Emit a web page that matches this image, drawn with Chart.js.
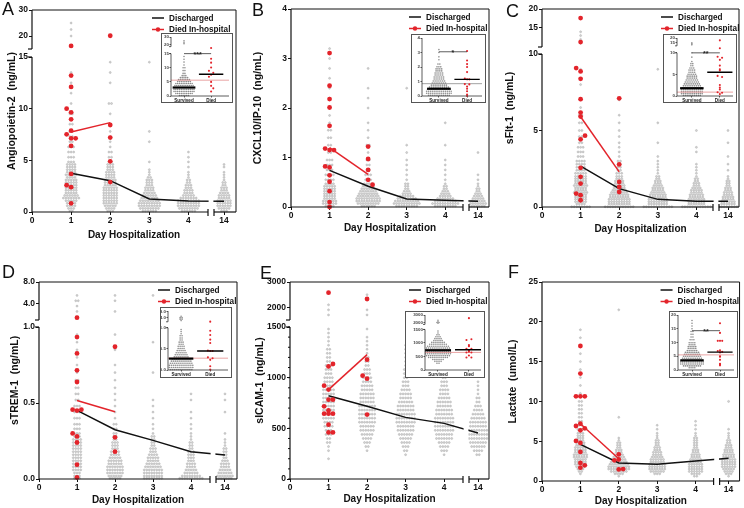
<!DOCTYPE html>
<html>
<head>
<meta charset="utf-8">
<title>Biomarkers by day of hospitalization</title>
<script src="https://cdn.jsdelivr.net/npm/chart.js@4.4.1/dist/chart.umd.min.js"></script>
<style>
html, body { margin: 0; padding: 0; background: #ffffff; }
#wrap { position: relative; width: 744px; height: 508px; overflow: hidden; background: #ffffff; }
#wrap canvas { position: absolute; }
.letter { position: absolute; z-index: 5; font-size: 18px; line-height: 18px; color: #111; font-family: "Liberation Sans", Arial, sans-serif; }
</style>
</head>
<body>
<div id="wrap">
  <div class="letter" style="left:2px;top:0px">A</div>
  <div class="letter" style="left:252px;top:1px">B</div>
  <div class="letter" style="left:506px;top:1.5px">C</div>
  <div class="letter" style="left:2px;top:262.6px">D</div>
  <div class="letter" style="left:260px;top:264px">E</div>
  <div class="letter" style="left:508px;top:262.6px">F</div>
</div>
<script>
// ---------------- shared categories ----------------
const days = [1, 2, 3, 4, 14];
const dayTicks = [0, 1, 2, 3, 4, 14];
const dayTickLabels = ['0', '1', '2', '3', '4', '14'];
const seriesLabels = ['Discharged', 'Died In-hospital'];
const insetCategories = ['Survived', 'Died'];
const xAxisTitle = 'Day Hospitalization';

// ---------------- A: Angiopoietin-2 ----------------
const angTitle = 'Angiopoietin-2  (ng/mL)';
const angTicks = [0, 5, 10, 15, 20, 30];
const angTickLabels = ['0', '5', '10', '15', '20', '30'];
const angRows = [0.1,0.35,0.6,0.85,1.1,1.35,1.6,1.85,2.1,2.35,2.6,2.85,3.1,3.35,3.6,3.85,4.1,4.35,4.6,4.85,5.3,5.8,6.3,6.8,7.3,7.8,8.5,9.5,10.5,11.5,12.5,13.5,14.5,17,20,22.5,25];
const angDay1 = [2,3,4,4,5,7,6,5,5,5, 5,5,5,4,5,4,4,4,4,3, 3,3,3,2,2,2,2,2,1,1, 1,1,0,0,1,1,1];
const angDay2 = [3,4,5,6,6,6,6,6,6,6, 5,5,5,4,4,4,3,3,3,2, 2,2,1,1,1,1,1,1,2,0, 1,1,1,0,1,0,0];
const angDay3 = [6,8,9,9,8,7,6,5,4,4, 3,3,3,2,1,1,1,0,0,1, 0,0,0,1,0,1,0,0,0,0, 0,0,1,0,0,0,0];
const angDay4 = [6,8,9,9,9,7,5,4,4,3, 3,2,2,1,1,1,0,1,0,1, 1,1,0,0,0,0,0,0,0,0, 0,0,0,0,0,0,0];
const angDay14 = [3,5,6,6,6,5,5,4,3,3, 2,2,1,1,1,1,0,1,1,0, 0,0,0,0,0,0,0,0,0,0, 0,0,0,0,0,0,0];
const angDiedDay1 = [16.2,13.2,12.1,10.0,9.65,8.97,7.87,7.52,7.13,7.13,6.39,3.68,2.6,2.4,0.84];
const angDiedDay1Slot = [0,0,0,-1,0,0,0,-1,0,1,0,0,-1,0,0];
const angDiedDay2 = [20.1,8.42,7.2,4.9,2.9];
const angDiedDay2Slot = [0,0,0,0,0];
const angDischargedMean = [3.74, 3.03, 1.26, 1.06, 1.04];
const angDiedMean = [7.75, 8.65];
const angInRows = [0.2,0.9,1.6,2.3,3.0,3.7,4.4,5.1,5.8,6.5,7.2,8,9,10,11,12,13,14,21,23,25];
const angInCounts = [6,10,12,12,12,11,10,8,7,5,3,2,2,2,1,1,1,1,1,1,1];
const angInDied = [16.6,13.2,11.8,10.1,8.9,8.2,7.5,6.8,5.0,3.6,2.7,1.6];
const angInDiedSlot = [0,0,0,0,-1,1,0,-1,0,0,1,0];
const angInMedian = [3.0, 7.7];
const angInCutoff = 5.6;
const angInSig = 15;
const angInStars = '***';

// ---------------- B: CXCL10/IP-10 ----------------
const cxTitle = 'CXCL10/IP-10  (ng/mL)';
const cxTicks = [0, 1, 2, 3, 4];
const cxTickLabels = ['0', '1', '2', '3', '4'];
const cxRows = [0.02,0.07,0.12,0.17,0.22,0.27,0.32,0.37,0.42,0.47,0.55,0.65,0.75,0.85,0.95,1.1,1.25,1.4,1.55,1.7,1.85,2.0,2.2,2.4,2.6,2.8,3.0,3.2];
const cxDay1 = [4,6,6,5,5,5,5,5,5,4, 4,4,3,3,3,2,2,2,2,1, 1,1,1,1,1,1,1,1];
const cxDay2 = [6,9,10,10,9,8,7,6,5,4, 3,3,2,2,2,1,2,1,1,1, 0,1,1,1,0,1,0,0];
const cxDay3 = [9,11,10,8,6,4,3,2,2,2, 1,1,1,1,1,1,1,0,0,0, 0,0,0,1,0,0,0,0];
const cxDay4 = [9,11,9,7,5,4,3,2,2,1, 1,1,1,1,1,0,1,0,0,1, 0,0,0,0,0,0,0,0];
const cxDay14 = [6,7,6,5,4,3,2,2,1,1, 1,1,0,0,0,1,0,0,0,0, 0,0,0,0,0,0,0,0];
const cxDiedDay1 = [3.11,2.45,2.18,2.01,1.64,1.18,1.15,1.15,0.82,0.80,0.64,0.51,0.32,0.10,0.0];
const cxDiedDay1Slot = [0,0,0,0,0,-1,0,1,-1,0,0,0,0,0,0];
const cxDiedDay2 = [1.22,0.97,0.75,0.55,0.45];
const cxDiedDay2Slot = [0,0,0,0,1];
const cxDischargedMean = [0.74, 0.42, 0.16, 0.135, 0.115];
const cxDiedMean = [1.2, 0.66];
const cxInRows = [0.05,0.19,0.33,0.47,0.61,0.75,0.89,1.03,1.17,1.31,1.45,1.59,1.73,1.87,2.01,2.2,2.5,2.7,3.0,3.2];
const cxInCounts = [12,14,14,13,11,9,8,7,6,6,5,5,4,4,3,2,1,1,1,1];
const cxInDied = [3.1,2.45,2.2,2.0,1.65,1.2,1.15,1.15,0.82,0.8,0.65,0.5,0.33,0.1,0.0];
const cxInDiedSlot = [0,0,0,0,0,-1,0,1,-1,1,0,0,0,0,0];
const cxInMedian = [0.5, 1.15];
const cxInCutoff = 0.85;
const cxInSig = 3.05;
const cxInStars = '*';

// ---------------- C: sFlt-1 ----------------
const sfTitle = 'sFlt-1  (ng/mL)';
const sfTicks = [0, 5, 10, 15, 20];
const sfTickLabels = ['0', '5', '10', '15', '20'];
const sfRows = [0.02,0.2,0.35,0.5,0.65,0.8,0.95,1.1,1.25,1.4,1.55,1.7,1.85,2.0,2.2,2.4,2.6,2.8,3.0,3.3,3.6,3.9,4.2,4.6,5.0,5.5,6.0,6.5,7.0,8.0,9.0,11,12,13,14];
const sfDay1 = [8,4,5,5,5,5,6,5,5,6, 5,5,5,5,5,4,4,4,4,3, 3,3,2,2,2,2,2,1,1,1, 1,1,1,1,1];
const sfDay2 = [12,9,9,9,8,8,7,6,5,5, 4,4,3,3,3,2,2,2,2,1, 1,1,1,1,1,1,1,0,1,0, 0,0,0,0,0];
const sfDay3 = [12,8,8,8,7,7,6,5,5,4, 3,3,2,2,1,1,1,1,1,1, 0,0,1,0,0,1,0,0,0,0, 1,0,0,0,0];
const sfDay4 = [12,7,7,7,6,6,5,5,4,3, 3,2,2,1,1,1,1,1,0,0, 1,1,0,0,1,0,0,0,0,0, 0,0,0,0,0];
const sfDay14 = [8,6,6,5,5,4,4,3,3,2, 2,2,1,1,0,1,0,1,0,1, 0,0,1,0,1,0,0,0,0,0, 0,0,0,0,0];
const sfDiedDay1 = [17.6,11.3,9.08,8.86,8.38,7.05,6.17,5.91,4.66,4.42,2.56,1.97,1.53,0.88,0.77,0.44];
const sfDiedDay1Slot = [0,0,-1,0,0,0,0,0,1,0,0,0,0,-1,0,0];
const sfDiedDay2 = [7.1,2.78,1.64,1.31,0.98];
const sfDiedDay2Slot = [0,0,0,0,0];
const sfDischargedMean = [2.67, 1.2, 0.5, 0.37, 0.37];
const sfDiedMean = [5.9, 2.3];
const sfInRows = [0.1,0.55,1.0,1.45,1.9,2.35,2.8,3.25,3.7,4.15,4.6,5.05,5.5,6.0,6.5,7.0,7.5,8.0,9.0,10.0,13,14,15];
const sfInCounts = [10,12,12,12,11,10,9,8,7,6,6,5,4,4,3,2,2,1,1,1,1,1,1];
const sfInDied = [17.6,11.3,9.08,8.86,8.38,7.05,6.17,5.91,4.66,4.42,2.56,1.97,1.53,0.88,0.77,0.44];
const sfInDiedSlot = [0,0,-1,1,0,0,0,0,-1,1,0,0,0,-1,1,0];
const sfInMedian = [1.8, 5.5];
const sfInCutoff = 0.9;
const sfInSig = 10;
const sfInStars = '**';

// ---------------- D: sTREM-1 ----------------
const stTitle = 'sTREM-1  (ng/mL)';
const stTicks = [0, 0.5, 1, 4, 8];
const stTickLabels = ['0.0', '0.5', '1.0', '4.0', '8.0'];
const stRows = [0.005,0.02,0.04,0.06,0.08,0.1,0.12,0.14,0.16,0.18,0.2,0.22,0.24,0.26,0.28,0.3,0.33,0.36,0.4,0.44,0.48,0.52,0.56,0.6,0.65,0.7,0.75,0.8,0.85,0.9,0.95,1.5,2.5,3.5,4.5,5.5];
const stDay1 = [3,3,3,4,4,4,4,4,4,4, 4,4,4,4,3,3,3,3,3,3, 3,2,2,2,2,1,1,1,1,1, 1,1,1,1,2,1];
const stDay2 = [5,6,7,7,7,6,6,5,4,4, 3,3,3,2,2,2,2,2,1,1, 1,1,1,1,1,1,1,0,1,0, 1,0,1,0,1,1];
const stDay3 = [8,8,8,8,7,6,5,5,4,3, 3,2,2,2,2,1,1,1,1,1, 1,1,0,0,0,1,0,0,0,1, 0,0,0,0,0,1];
const stDay4 = [10,8,6,5,4,4,3,3,3,3, 2,2,2,1,1,1,1,1,1,1, 0,1,1,0,0,0,0,0,0,0, 0,0,1,0,0,0];
const stDay14 = [6,7,6,5,4,4,3,2,2,2, 2,1,1,1,0,1,0,0,0,1, 0,1,1,0,0,0,0,0,0,0, 0,0,0,0,0,0];
const stDiedDay1 = [1.33,0.934,0.826,0.715,0.638,0.456,0.45,0.456,0.30,0.28,0.24,0.094,0.01];
const stDiedDay1Slot = [0,0,0,0,0,-1,0,1,-1,0,0,0,0];
const stDiedDay2 = [0.87,0.274,0.18];
const stDiedDay2Slot = [0,0,0];
const stDischargedMean = [0.451, 0.324, 0.254, 0.18, 0.158];
const stDiedMean = [0.517, 0.443];
const stInRows = [0.01,0.06,0.11,0.16,0.21,0.26,0.31,0.36,0.41,0.46,0.51,0.56,0.61,0.66,0.71,0.76,0.81,0.86,0.91,0.96,2,3,4,5];
const stInCounts = [12,13,13,12,11,10,8,7,6,5,4,4,3,3,2,2,2,1,1,1,1,2,2,1];
const stInDied = [1.3,0.93,0.83,0.72,0.64,0.46,0.45,0.45,0.3,0.28,0.24,0.09,0.01];
const stInDiedSlot = [0,0,0,0,0,-1,0,1,-1,1,0,0,0];
const stInMedian = [0.27, 0.45];
const stInCutoff = 0.28;

// ---------------- E: sICAM-1 ----------------
const siTitle = 'sICAM-1  (ng/mL)';
const siTicks = [0, 500, 1000, 1500, 2000, 3000];
const siTickLabels = ['0', '500', '1000', '1500', '2000', '3000'];
const siRows = [200,240,280,320,360,400,440,480,520,560,600,640,680,720,760,800,840,880,920,960,1000,1040,1080,1120,1160,1200,1240,1280,1320,1360,1400,1440,1480,1700,1900,2100,2300,2500];
const siDay1 = [1,0,1,1,2,2,3,3,4,4, 5,5,5,5,5,5,5,5,4,4, 4,3,3,3,2,2,2,2,1,1, 1,1,1,1,1,1,0,0];
const siDay2 = [0,0,1,2,3,4,5,6,6,7, 7,7,7,7,6,6,6,5,5,4, 4,3,3,2,2,2,1,1,1,1, 1,0,1,1,1,0,1,1];
const siDay3 = [0,1,2,3,4,5,6,7,7,8, 8,8,7,7,6,5,5,4,3,3, 2,2,2,1,1,1,1,1,1,0, 0,0,0,0,0,0,0,0];
const siDay4 = [0,1,3,4,5,7,7,8,8,8, 8,7,7,6,6,5,4,4,3,3, 2,2,1,1,1,1,1,0,0,0, 1,0,1,0,0,0,0,0];
const siDay14 = [0,2,4,6,7,8,8,8,7,7, 6,5,4,3,2,2,1,1,1,1, 0,0,0,0,0,0,0,0,0,0, 0,0,0,0,0,0,0,0];
const siDiedDay1 = [2580,1135,1111,921,882,783,783,717,677,645,645,645,536,460,460];
const siDiedDay1Slot = [0,1,0,-1,0,0,1,-1,0,-1,0,1,0,0,1];
const siDiedDay2 = [2328,1178,1020,990,636];
const siDiedDay2Slot = [0,0,-1,0,0];
const siDischargedMean = [822, 717, 608, 549, 454];
const siDiedMean = [882, 1227];
const siInRows = [250,320,390,460,530,600,670,740,810,880,950,1020,1090,1160,1230,1300,1370,1440,1900,2000,2100,2300];
const siInCounts = [2,4,6,10,12,13,13,13,12,11,9,7,5,4,3,2,1,1,1,2,1,1];
const siInDied = [2580,1135,1111,921,882,783,783,717,677,645,645,536,460,460];
const siInDiedSlot = [0,1,-1,0,0,-1,1,0,0,-1,1,0,-1,1];
const siInMedian = [730, 750];
const siInCutoff = 650;

// ---------------- F: Lactate ----------------
const laTitle = 'Lactate  (umol/L)';
const laTicks = [0, 5, 10, 15, 20, 25];
const laTickLabels = ['0', '5', '10', '15', '20', '25'];
const laRows = [0.6,0.9,1.2,1.5,1.8,2.1,2.4,2.7,3.0,3.3,3.6,3.9,4.2,4.5,4.8,5.1,5.4,5.7,6.0,6.5,7.0,7.5,8.0,8.5,9.0,9.5,10.0,11,12,13,14,15,16,17,18,19,21.5];
const laDay1 = [0,1,2,3,4,5,5,5,6,6, 5,5,5,4,4,3,3,3,3,3, 2,2,2,2,2,2,2,1,1,1, 1,1,1,1,1,1,0];
const laDay2 = [1,4,7,9,9,8,7,6,5,4, 3,3,2,2,2,1,1,0,0,0, 0,0,1,0,0,0,0,0,0,0, 0,0,0,0,0,0,1];
const laDay3 = [0,3,6,7,7,7,6,6,5,4, 4,3,3,2,2,2,1,1,1,1, 1,0,0,0,0,0,0,0,0,0, 0,0,0,0,0,0,0];
const laDay4 = [2,4,6,6,6,6,5,5,4,4, 3,3,2,2,2,2,2,1,1,1, 1,1,0,0,0,0,0,0,0,0, 0,0,0,0,0,0,0];
const laDay14 = [1,3,4,5,6,6,6,6,5,5, 4,4,3,3,2,2,1,1,1,1, 0,0,0,0,0,0,1,0,0,0, 0,0,0,0,0,0,0];
const laDiedDay1 = [16.96,13.5,10.64,10.64,10.64,7.2,6.91,6.62,6.37,5.03,4.78,3.65,2.27,1.97,1.68];
const laDiedDay1Slot = [0,0,-1,0,1,0,-1,1,0,-1,0,0,0,1,0];
const laDiedDay2 = [3.35,2.7,2.6,1.45,1.5];
const laDiedDay2Slot = [0,0,-1,0,1];
const laDischargedMean = [4.6, 2.26, 2.1, 2.5, 2.85];
const laDiedMean = [7.2, 2.8];
const laInTicks = [0, 5, 10, 15, 20];
const laInTickLabels = ['0', '5', '10', '15', '20'];
const laInRows = [0.8,1.5,2.2,2.9,3.6,4.3,5.0,5.7,6.4,7.1,7.8,8.5,9.2,9.9,11,12,13,14,15,16,17,18];
const laInCounts = [4,10,13,13,12,11,10,9,8,6,5,5,4,4,3,2,2,2,1,1,1,1];
const laInDied = [17,13.5,10.6,10.6,10.6,7.2,6.9,6.6,6.4,5,4.8,3.7,2.3,2.0,1.7];
const laInDiedSlot = [0,0,-1,0,1,0,-1,1,0,0,0,0,0,0,0];
const laInMedian = [3.5, 6.5];
const laInCutoff = 5.5;
const laInSig = 14.3;
const laInStars = '**';

// ================= library setup =================
const FONT = '"Liberation Sans", Arial, Helvetica, sans-serif';
Chart.defaults.font.family = FONT;
Chart.defaults.color = '#111';
const RED = '#e3242b';

// A linear scale with axis breaks: segments = [[min, max, weight], ...], gap in px
class BrokenScale extends Chart.LinearScale {
  determineDataLimits() {
    const segs = this.options.segments;
    this.min = segs[0][0];
    this.max = segs[segs.length - 1][1];
  }
  buildTicks() {
    return this.options.tickValues.map(v => ({ value: v }));
  }
  _segLayout() {
    const segs = this.options.segments;
    const gap = this.options.gap || 0;
    const L = this._length;
    const tw = segs.reduce((s, g) => s + g[2], 0);
    const usable = L - gap * (segs.length - 1);
    let pos = 0;
    return segs.map(g => {
      const len = usable * g[2] / tw;
      const o = { min: g[0], max: g[1], start: pos, len: len };
      pos += len + gap;
      return o;
    });
  }
  segmentPixels() {
    const L = this._length;
    return this._segLayout().map(s => [this.getPixelForDecimal(s.start / L), this.getPixelForDecimal((s.start + s.len) / L)]);
  }
  getPixelForValue(value) {
    if (value === null || value === undefined) return NaN;
    const lay = this._segLayout();
    const L = this._length;
    let d = 0;
    for (let i = 0; i < lay.length; i++) {
      const s = lay[i];
      if (value <= s.max || i === lay.length - 1) {
        if (i > 0 && value < s.min) {
          const p = lay[i - 1];
          const pEnd = p.start + p.len;
          d = pEnd + (value - p.max) / (s.min - p.max) * (s.start - pEnd);
        } else {
          d = s.start + (value - s.min) / (s.max - s.min) * s.len;
        }
        break;
      }
    }
    return this.getPixelForDecimal(d / L);
  }
  getValueForPixel(pixel) {
    const d = this.getDecimalForPixel(pixel) * this._length;
    const lay = this._segLayout();
    for (const s of lay) {
      if (d <= s.start + s.len) return s.min + (d - s.start) / s.len * (s.max - s.min);
    }
    return lay[lay.length - 1].max;
  }
}
BrokenScale.id = 'broken';
BrokenScale.defaults = {};
Chart.register(BrokenScale);

// Prism-style row layout: points of one row are spread side by side around the category
function swarm(center, rows, counts, dx) {
  const pts = [];
  rows.forEach((v, r) => {
    const n = counts[r] || 0;
    for (let i = 0; i < n; i++) pts.push({ x: center + (i - (n - 1) / 2) * dx, y: v });
  });
  return pts;
}

function makeCanvas(box) {
  const c = document.createElement('canvas');
  c.width = box[2]; c.height = box[3];
  c.style.left = box[0] + 'px'; c.style.top = box[1] + 'px';
  c.style.width = box[2] + 'px'; c.style.height = box[3] + 'px';
  document.getElementById('wrap').appendChild(c);
  return c;
}

function line(ctx, x1, y1, x2, y2) {
  ctx.beginPath(); ctx.moveTo(x1, y1); ctx.lineTo(x2, y2); ctx.stroke();
}

const TICK_FONT = { size: 8.5, weight: 'bold' };

function mainPanel(p) {
  const [bx, by, bw, bh] = p.box;
  const [al, at, ar, ab] = p.area;
  const cv = makeCanvas(p.box);
  const grey = [];
  p.cloud.forEach((counts, k) => swarm(days[k], p.rows, counts, 0.066).forEach(pt => grey.push(pt)));
  const red = [];
  p.diedVals.forEach((vals, k) => vals.forEach((v, i) => red.push({ x: days[k] + p.diedSlots[k][i] * 0.115, y: v })));

  const deco = {
    id: 'deco',
    afterDraw(chart) {
      const ctx = chart.ctx, ca = chart.chartArea;
      const xs = chart.scales.x, ys = chart.scales.y;
      const xp = xs.segmentPixels(), yp = ys.segmentPixels();
      ctx.save();
      ctx.fillStyle = '#ffffff';
      for (let i = 1; i < xp.length; i++) {
        const a = xp[i - 1][1], b = xp[i][0];
        ctx.fillRect(a + 0.6, ca.top + 1, b - a - 1.2, ca.bottom - ca.top + 5);
      }
      ctx.strokeStyle = '#111'; ctx.lineWidth = 1.2; ctx.lineCap = 'butt';
      yp.forEach((s, i) => {
        line(ctx, ca.left, s[0], ca.left, s[1]);
        if (i > 0) line(ctx, ca.left - 4, s[0], ca.left, s[0]);
        if (i < yp.length - 1) line(ctx, ca.left - 4, s[1], ca.left, s[1]);
      });
      xp.forEach((s, i) => {
        line(ctx, s[0], ca.bottom, s[1], ca.bottom);
        if (i > 0) line(ctx, s[0], ca.bottom - 3, s[0], ca.bottom + 4);
        if (i < xp.length - 1) line(ctx, s[1], ca.bottom - 3, s[1], ca.bottom + 4);
      });
      if (p.minorStep) {
        ctx.lineWidth = 1;
        const seg = ys.options.segments[0];
        for (let v = seg[0]; v <= seg[1]; v += p.minorStep) {
          const py = ys.getPixelForValue(v);
          line(ctx, ca.left - 2, py, ca.left, py);
        }
      }
      ctx.lineWidth = 1;
      line(ctx, ca.left, ca.top, ca.right, ca.top);
      line(ctx, ca.right, ca.top, ca.right, ca.bottom);
      // legend
      const tx = ca.right - p.legendDx;
      const r1 = ca.top + 8, r2 = ca.top + 19.5;
      ctx.font = 'bold 8.2px ' + FONT;
      ctx.textBaseline = 'middle'; ctx.textAlign = 'left';
      ctx.lineWidth = 1.5;
      ctx.strokeStyle = '#111';
      line(ctx, tx - 17, r1, tx - 5, r1);
      ctx.fillStyle = '#111';
      ctx.fillText(chart.data.datasets[1].label, tx, r1 + 0.5);
      ctx.strokeStyle = RED;
      line(ctx, tx - 17, r2, tx - 5, r2);
      ctx.fillStyle = RED;
      ctx.beginPath(); ctx.arc(tx - 11, r2, 2.2, 0, Math.PI * 2); ctx.fill();
      ctx.fillStyle = '#111';
      ctx.fillText(chart.data.datasets[2].label, tx, r2 + 0.5);
      ctx.restore();
    }
  };

  new Chart(cv, {
    type: 'scatter',
    data: {
      datasets: [
        { data: grey, pointRadius: 1.0, backgroundColor: '#d2d2d2', borderColor: '#a9a9a9', borderWidth: 0.45, order: 3 },
        { label: seriesLabels[0], data: days.map((d, i) => ({ x: d, y: p.discharged[i] })), showLine: true, borderColor: '#111', borderWidth: 1.5, pointRadius: 0, order: 2 },
        { label: seriesLabels[1], data: p.died.map((v, i) => ({ x: days[i], y: v })), showLine: true, borderColor: RED, borderWidth: 1.5, pointRadius: 0, order: 1 },
        { data: red, pointRadius: 2.4, backgroundColor: RED, borderWidth: 0, order: 0 }
      ]
    },
    options: {
      responsive: false, animation: false, devicePixelRatio: 1, events: [],
      layout: { padding: { left: 0, top: at - by, right: bx + bw - ar, bottom: by + bh - ab - p.xH } },
      plugins: { legend: { display: false }, tooltip: { enabled: false } },
      scales: {
        x: {
          type: 'broken', position: 'bottom', segments: p.xSeg, gap: 6, tickValues: dayTicks,
          ticks: { callback: (v, i) => dayTickLabels[i], font: TICK_FONT, color: '#111', padding: 1, autoSkip: false, maxRotation: 0, minRotation: 0 },
          grid: { drawOnChartArea: false, drawTicks: true, tickLength: 3, color: '#111', lineWidth: 1 },
          border: { display: false },
          title: { display: true, text: xAxisTitle, font: { size: 10, weight: 'bold' }, color: '#111', padding: { top: 0, bottom: 0 } },
          afterFit: s => { s.height = p.xH; s.paddingLeft = 0; s.paddingRight = 0; }
        },
        y: {
          type: 'broken', position: 'left', segments: p.ySeg, gap: p.yGap, tickValues: p.ticks,
          ticks: { callback: (v, i) => p.tickLabels[i], font: TICK_FONT, color: '#111', padding: 1, autoSkip: false },
          grid: { drawOnChartArea: false, drawTicks: true, tickLength: 3, color: '#111', lineWidth: 1 },
          border: { display: false },
          title: { display: true, text: p.title, font: { size: 10.5, weight: 'bold' }, color: '#111', padding: { top: p.titlePad, bottom: 0 } },
          afterFit: s => { s.width = al - bx; s.paddingTop = 0; s.paddingBottom = 0; }
        }
      }
    },
    plugins: [deco]
  });
}

function insetPanel(q) {
  const [bx, by, bw, bh] = q.box;
  const cv = makeCanvas(q.box);
  const grey = swarm(0, q.rows, q.counts, 0.067);
  const red = q.died.map((v, i) => ({ x: 1 + q.slots[i] * 0.08, y: v }));
  const ds = [
    { data: grey, pointRadius: 0.8, backgroundColor: '#8c8c8c', borderWidth: 0, order: 6 },
    { data: [{ x: q.xr[0], y: q.cutoff }, { x: q.xr[1], y: q.cutoff }], showLine: true, borderColor: q.cutoffColor, borderWidth: 0.8, pointRadius: 0, order: 5 },
    { data: [{ x: -0.42, y: q.median[0] }, { x: 0.42, y: q.median[0] }], showLine: true, borderColor: '#000', borderWidth: 2.2, pointRadius: 0, order: 2 },
    { data: red, pointRadius: 1.05, backgroundColor: RED, borderWidth: 0, order: 3 },
    { data: [{ x: 0.55, y: q.median[1] }, { x: 1.45, y: q.median[1] }], showLine: true, borderColor: '#000', borderWidth: 1.4, pointRadius: 0, order: 1 }
  ];
  if (q.sig !== undefined) {
    ds.push({ data: [{ x: 0, y: q.sig }, { x: 1, y: q.sig }], showLine: true, borderColor: '#333', borderWidth: 0.8, pointRadius: 0, order: 0 });
  }
  const deco = {
    id: 'insetDeco',
    beforeDraw(chart) {
      const ctx = chart.ctx;
      ctx.save(); ctx.fillStyle = '#ffffff'; ctx.fillRect(0, 0, chart.width, chart.height); ctx.restore();
    },
    afterDraw(chart) {
      const ctx = chart.ctx, ca = chart.chartArea;
      const xs = chart.scales.x, ys = chart.scales.y;
      ctx.save();
      ctx.strokeStyle = '#555'; ctx.lineWidth = 1;
      ctx.strokeRect(0.5, 0.5, chart.width - 1, chart.height - 1);
      ctx.strokeStyle = '#333'; ctx.lineWidth = 0.8;
      const yp = ys.segmentPixels();
      yp.forEach((s, i) => {
        line(ctx, ca.left, s[0], ca.left, s[1]);
        if (i > 0) line(ctx, ca.left - 2, s[0], ca.left, s[0]);
        if (i < yp.length - 1) line(ctx, ca.left - 2, s[1], ca.left, s[1]);
      });
      line(ctx, ca.left, ca.bottom, ca.right, ca.bottom);
      if (q.sig !== undefined) {
        const px = (xs.getPixelForValue(0) + xs.getPixelForValue(1)) / 2;
        const py = ys.getPixelForValue(q.sig);
        ctx.fillStyle = '#222';
        ctx.font = 'bold 7px ' + FONT;
        ctx.textAlign = 'center'; ctx.textBaseline = 'alphabetic';
        ctx.fillText(q.stars, px, py + 3);
      }
      ctx.restore();
    }
  };
  new Chart(cv, {
    type: 'scatter',
    data: { datasets: ds },
    options: {
      responsive: false, animation: false, devicePixelRatio: 1, events: [],
      layout: { padding: { left: 0, top: q.topY - by, right: 0, bottom: 0 } },
      plugins: { legend: { display: false }, tooltip: { enabled: false } },
      scales: {
        x: {
          type: 'linear', min: q.xr[0], max: q.xr[1],
          afterBuildTicks: s => { s.ticks = insetCategories.map((c, i) => ({ value: i })); },
          ticks: { callback: (v, i) => insetCategories[i], font: { size: 4.6, weight: 'bold' }, color: '#222', padding: 0.5, autoSkip: false, maxRotation: 0, minRotation: 0 },
          grid: { drawOnChartArea: false, drawTicks: true, tickLength: 1.5, color: '#333', lineWidth: 0.8 },
          border: { display: false },
          afterFit: s => { s.height = by + bh - q.zeroY; s.paddingLeft = 0; s.paddingRight = 0; }
        },
        y: {
          type: 'broken', position: 'left', segments: q.ySeg, gap: q.yGap, tickValues: q.ticks,
          ticks: { callback: (v, i) => q.tickLabels[i], font: { size: 4.4, weight: 'bold' }, color: '#444', padding: 0.6, autoSkip: false },
          grid: { drawOnChartArea: false, drawTicks: true, tickLength: 1.5, color: '#333', lineWidth: 0.8 },
          border: { display: false },
          afterFit: s => { s.width = q.axisX - bx; s.paddingTop = 0; s.paddingBottom = 0; }
        }
      }
    },
    plugins: [deco]
  });
}

// ================= panels =================
mainPanel({ box: [0, 0, 248, 252], area: [32, 10, 236, 212], xH: 29, titlePad: 6, title: angTitle,
  ticks: angTicks, tickLabels: angTickLabels, ySeg: [[0, 15, 155], [15, 30, 39]], yGap: 8,
  xSeg: [[0, 4.5, 176], [13.74, 14.31, 22]], legendDx: 67,
  rows: angRows, cloud: [angDay1, angDay2, angDay3, angDay4, angDay14],
  diedVals: [angDiedDay1, angDiedDay2], diedSlots: [angDiedDay1Slot, angDiedDay2Slot],
  discharged: angDischargedMean, died: angDiedMean });

mainPanel({ box: [248, 0, 248, 252], area: [291, 9, 489, 207], xH: 27, titlePad: 4, title: cxTitle,
  ticks: cxTicks, tickLabels: cxTickLabels, ySeg: [[0, 4, 198]], yGap: 0,
  xSeg: [[0, 4.46, 172], [13.767, 14.285, 20]], legendDx: 63,
  rows: cxRows, cloud: [cxDay1, cxDay2, cxDay3, cxDay4, cxDay14],
  diedVals: [cxDiedDay1, cxDiedDay2], diedSlots: [cxDiedDay1Slot, cxDiedDay2Slot],
  discharged: cxDischargedMean, died: cxDiedMean });

mainPanel({ box: [496, 0, 248, 252], area: [542, 9, 739, 207], xH: 28, titlePad: 8, title: sfTitle,
  ticks: sfTicks, tickLabels: sfTickLabels, ySeg: [[0, 10, 153], [10, 20, 38]], yGap: 7,
  xSeg: [[0, 4.43, 171], [13.767, 14.284, 20]], legendDx: 61,
  rows: sfRows, cloud: [sfDay1, sfDay2, sfDay3, sfDay4, sfDay14],
  diedVals: [sfDiedDay1, sfDiedDay2], diedSlots: [sfDiedDay1Slot, sfDiedDay2Slot],
  discharged: sfDischargedMean, died: sfDiedMean });

mainPanel({ box: [0, 254, 248, 254], area: [39, 282, 237, 479], xH: 27, titlePad: 9, title: stTitle,
  ticks: stTicks, tickLabels: stTickLabels, ySeg: [[0, 1, 152], [0.9, 8, 38]], yGap: 7,
  xSeg: [[0, 4.5, 171], [13.763, 14.317, 21]], legendDx: 62,
  rows: stRows, cloud: [stDay1, stDay2, stDay3, stDay4, stDay14],
  diedVals: [stDiedDay1, stDiedDay2], diedSlots: [stDiedDay1Slot, stDiedDay2Slot],
  discharged: stDischargedMean, died: stDiedMean });

mainPanel({ box: [248, 254, 248, 254], area: [290, 282, 489, 479], xH: 26, titlePad: 6, title: siTitle,
  ticks: siTicks, tickLabels: siTickLabels, ySeg: [[0, 1500, 152], [1500, 3000, 38]], yGap: 7,
  xSeg: [[0, 4.49, 173], [13.766, 14.286, 20]], legendDx: 63, minorStep: 100,
  rows: siRows, cloud: [siDay1, siDay2, siDay3, siDay4, siDay14],
  diedVals: [siDiedDay1, siDiedDay2], diedSlots: [siDiedDay1Slot, siDiedDay2Slot],
  discharged: siDischargedMean, died: siDiedMean });

mainPanel({ box: [496, 254, 248, 254], area: [542, 282, 740, 481], xH: 26, titlePad: 11, title: laTitle,
  ticks: laTicks, tickLabels: laTickLabels, ySeg: [[0, 25, 199]], yGap: 0,
  xSeg: [[0, 4.47, 172], [13.766, 14.286, 20]], legendDx: 62,
  rows: laRows, cloud: [laDay1, laDay2, laDay3, laDay4, laDay14],
  diedVals: [laDiedDay1, laDiedDay2], diedSlots: [laDiedDay1Slot, laDiedDay2Slot],
  discharged: laDischargedMean, died: laDiedMean });

// ================= insets =================
const PINK = '#e58b8b';
insetPanel({ box: [161, 33, 72, 70], axisX: 171, topY: 35, zeroY: 96, xr: [-0.48, 1.66],
  ySeg: [[0, 15, 44], [17, 30, 10]], yGap: 7, ticks: angTicks, tickLabels: angTickLabels,
  rows: angInRows, counts: angInCounts, died: angInDied, slots: angInDiedSlot,
  median: angInMedian, cutoff: angInCutoff, cutoffColor: PINK, sig: angInSig, stars: angInStars });

insetPanel({ box: [411, 34, 75, 69], axisX: 422, topY: 37, zeroY: 96, xr: [-0.6, 1.53],
  ySeg: [[0, 4, 59]], yGap: 0, ticks: cxTicks, tickLabels: cxTickLabels,
  rows: cxInRows, counts: cxInCounts, died: cxInDied, slots: cxInDiedSlot,
  median: cxInMedian, cutoff: cxInCutoff, cutoffColor: '#8a8a8a', sig: cxInSig, stars: cxInStars });

insetPanel({ box: [663, 34, 74, 69], axisX: 677, topY: 37, zeroY: 96, xr: [-0.53, 1.47],
  ySeg: [[0, 10, 44], [12, 20, 8]], yGap: 7, ticks: sfTicks, tickLabels: sfTickLabels,
  rows: sfInRows, counts: sfInCounts, died: sfInDied, slots: sfInDiedSlot,
  median: sfInMedian, cutoff: sfInCutoff, cutoffColor: PINK, sig: sfInSig, stars: sfInStars });

insetPanel({ box: [160, 307, 72, 71], axisX: 168, topY: 310, zeroY: 370, xr: [-0.45, 1.61],
  ySeg: [[0, 1, 43], [1.2, 8.5, 11]], yGap: 6, ticks: stTicks, tickLabels: stTickLabels,
  rows: stInRows, counts: stInCounts, died: stInDied, slots: stInDiedSlot,
  median: stInMedian, cutoff: stInCutoff, cutoffColor: PINK });

insetPanel({ box: [405, 311, 80, 67], axisX: 425, topY: 312, zeroY: 370, xr: [-0.42, 1.39],
  ySeg: [[0, 1500, 43], [1750, 3000, 10]], yGap: 5, ticks: siTicks, tickLabels: siTickLabels,
  rows: siInRows, counts: siInCounts, died: siInDied, slots: siInDiedSlot,
  median: siInMedian, cutoff: siInCutoff, cutoffColor: PINK });

insetPanel({ box: [669, 311, 69, 67], axisX: 678, topY: 312, zeroY: 370, xr: [-0.5, 1.5],
  ySeg: [[0, 20, 58]], yGap: 0, ticks: laInTicks, tickLabels: laInTickLabels,
  rows: laInRows, counts: laInCounts, died: laInDied, slots: laInDiedSlot,
  median: laInMedian, cutoff: laInCutoff, cutoffColor: PINK, sig: laInSig, stars: laInStars });
</script>
</body>
</html>
